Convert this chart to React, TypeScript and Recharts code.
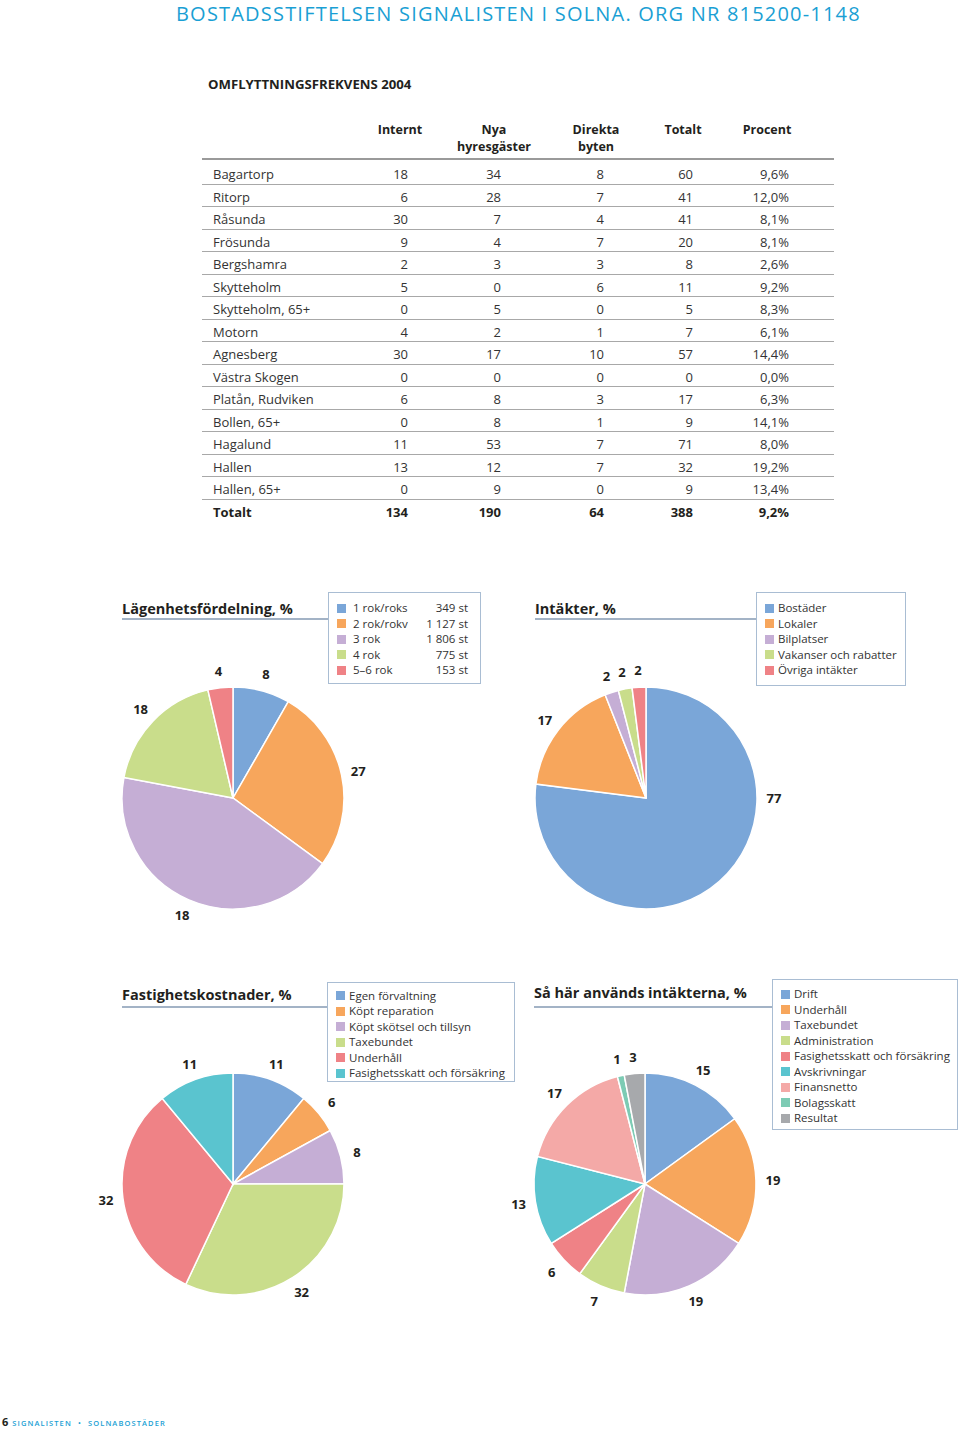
import React from 'react';
import { PieChart, Pie, Cell } from 'recharts';

// ---------- DATA ----------
const headerText = 'BOSTADSSTIFTELSEN SIGNALISTEN I SOLNA. ORG NR 815200-1148';
const tableTitle = 'OMFLYTTNINGSFREKVENS 2004';
const tableColumns = [['Internt'], ['Nya', 'hyresgäster'], ['Direkta', 'byten'], ['Totalt'], ['Procent']];
const areaNames = ['Bagartorp', 'Ritorp', 'Råsunda', 'Frösunda', 'Bergshamra', 'Skytteholm', 'Skytteholm, 65+', 'Motorn', 'Agnesberg', 'Västra Skogen', 'Platån, Rudviken', 'Bollen, 65+', 'Hagalund', 'Hallen', 'Hallen, 65+'];
const interntValues = [18, 6, 30, 9, 2, 5, 0, 4, 30, 0, 6, 0, 11, 13, 0];
const nyaValues = [34, 28, 7, 4, 3, 0, 5, 2, 17, 0, 8, 8, 53, 12, 9];
const direktaValues = [8, 7, 4, 7, 3, 6, 0, 1, 10, 0, 3, 1, 7, 7, 0];
const totaltValues = [60, 41, 41, 20, 8, 11, 5, 7, 57, 0, 17, 9, 71, 32, 9];
const procentValues = ['9,6%', '12,0%', '8,1%', '8,1%', '2,6%', '9,2%', '8,3%', '6,1%', '14,4%', '0,0%', '6,3%', '14,1%', '8,0%', '19,2%', '13,4%'];
const totalRow = ['Totalt', '134', '190', '64', '388', '9,2%'];

const lagTitle = 'Lägenhetsfördelning, %';
const lagNames = ['1 rok/roks', '2 rok/rokv', '3 rok', '4 rok', '5–6 rok'];
const lagCounts = [349, 1127, 1806, 775, 153];
const lagLabels = ['8', '27', '18', '18', '4'];

const intTitle = 'Intäkter, %';
const intNames = ['Bostäder', 'Lokaler', 'Bilplatser', 'Vakanser och rabatter', 'Övriga intäkter'];
const intValues = [77, 17, 2, 2, 2];

const kostTitle = 'Fastighetskostnader, %';
const kostNames = ['Egen förvaltning', 'Köpt reparation', 'Köpt skötsel och tillsyn', 'Taxebundet', 'Underhåll', 'Fasighetsskatt och försäkring'];
const kostValues = [11, 6, 8, 32, 32, 11];

const anvTitle = 'Så här används intäkterna, %';
const anvNames = ['Drift', 'Underhåll', 'Taxebundet', 'Administration', 'Fasighetsskatt och försäkring', 'Avskrivningar', 'Finansnetto', 'Bolagsskatt', 'Resultat'];
const anvValues = [15, 19, 19, 7, 6, 13, 17, 1, 3];

const footerPage = '6';
const footerText = 'SIGNALISTEN  •  SOLNABOSTÄDER';

// ---------- STYLE ----------
const FONT = '"Open Sans", "Noto Sans", sans-serif';
const INK = '#231f20';
const BLUE_TXT = '#1a9fd4';
const COL = {
  blue: '#7aa6d8',
  orange: '#f7a65c',
  purple: '#c5aed5',
  green: '#c9dd8b',
  red: '#ef8286',
  teal: '#5ac4cf',
  pink: '#f4a9a7',
  sea: '#7dcbb4',
  gray: '#a7a9ac',
};
const five = [COL.blue, COL.orange, COL.purple, COL.green, COL.red];
const six = [...five, COL.teal];
const nine = [...six, COL.pink, COL.sea, COL.gray];

const RAD = Math.PI / 180;
const fmtThousands = (n: number) => n.toString().replace(/\B(?=(\d{3})+(?!\d))/g, ' ');

const makeLabel = (labels: string[]) => (props: any) => {
  const { cx, cy, midAngle, outerRadius, percent, index } = props;
  const ang = percent > 0.5 ? 0 : midAngle;
  const r = outerRadius + 17;
  const x = cx + r * Math.cos(-ang * RAD);
  const y = cy + r * Math.sin(-ang * RAD);
  return (
    <text key={`l${index}`} x={x} y={y} textAnchor="middle" dominantBaseline="central"
      style={{ fontFamily: FONT, fontWeight: 700, fontSize: 13, fill: INK }}>
      {labels[index]}
    </text>
  );
};

function PieBlock({ cxPage, cyPage, values, labels, colors }: { cxPage: number; cyPage: number; values: number[]; labels: string[]; colors: string[] }) {
  const size = 320;
  const data = values.map((v, i) => ({ name: String(i), value: v }));
  return (
    <div style={{ position: 'absolute', left: cxPage - size / 2, top: cyPage - size / 2, width: size, height: size }}>
      <PieChart width={size} height={size} margin={{ top: 0, right: 0, bottom: 0, left: 0 }}>
        <Pie data={data} dataKey="value" cx="50%" cy="50%" outerRadius={111} startAngle={90} endAngle={-270}
          stroke="#ffffff" strokeWidth={1.5} isAnimationActive={false} labelLine={false} label={makeLabel(labels)}>
          {data.map((d, i) => <Cell key={d.name} fill={colors[i]} />)}
        </Pie>
      </PieChart>
    </div>
  );
}

function Title({ text, x, y, lineY, lineEnd }: { text: string; x: number; y: number; lineY: number; lineEnd: number }) {
  return (
    <>
      <div style={{ position: 'absolute', left: x, top: y - 10, height: 20, lineHeight: '20px', fontFamily: FONT, fontWeight: 700, fontSize: 14.5, color: INK, whiteSpace: 'nowrap' }}>{text}</div>
      <div style={{ position: 'absolute', left: x, top: lineY, width: lineEnd - x, height: 1.5, background: '#a3b3c6' }} />
    </>
  );
}

function LegendBox({ left, top, width, height, names, colors, firstY, step, values }: { left: number; top: number; width: number; height: number; names: string[]; colors: string[]; firstY: number; step: number; values?: string[] }) {
  return (
    <>
      <div style={{ position: 'absolute', left, top, width, height, border: '1.5px solid #a9bdd3', boxSizing: 'border-box' }} />
      {names.map((n, i) => {
        const cy = firstY + i * step;
        return (
          <React.Fragment key={n + i}>
            <div style={{ position: 'absolute', left: left + 9, top: cy - 4.5, width: 9, height: 9, background: colors[i] }} />
            <div style={{ position: 'absolute', left: left + (values ? 25 : 22), top: cy - 8, height: 16, lineHeight: '16px', fontFamily: FONT, fontSize: 11.5, color: '#333', whiteSpace: 'nowrap' }}>{n}</div>
            {values && (
              <div style={{ position: 'absolute', right: 960 - (left + width - 13), top: cy - 8, height: 16, lineHeight: '16px', fontFamily: FONT, fontSize: 11.5, color: '#333', whiteSpace: 'nowrap', textAlign: 'right' }}>{values[i]}</div>
            )}
          </React.Fragment>
        );
      })}
    </>
  );
}

export default function App() {
  const colCenters = [400, 494, 596, 683, 767];
  const colRights = [408, 501, 604, 693, 789];
  const rowTop = 162;
  const rowH = 22.5;
  const rows = areaNames.map((n, i) => [n, String(interntValues[i]), String(nyaValues[i]), String(direktaValues[i]), String(totaltValues[i]), procentValues[i]]);
  const allRows = [...rows, totalRow];
  const cellText = (bold: boolean): React.CSSProperties => ({ position: 'absolute', height: 18, lineHeight: '18px', fontFamily: FONT, fontSize: 13, fontWeight: bold ? 700 : 400, color: bold ? INK : '#333', whiteSpace: 'nowrap' });

  return (
    <div style={{ position: 'relative', width: 960, height: 1429, overflow: 'hidden', background: '#fff' }}>
      <style>{`body{margin:0}`}</style>
      {/* header */}
      <div style={{ position: 'absolute', left: 176, top: 2, height: 24, lineHeight: '24px', fontFamily: FONT, fontSize: 20, letterSpacing: 1.2, color: BLUE_TXT, whiteSpace: 'nowrap' }}>{headerText}</div>

      {/* table */}
      <div style={{ position: 'absolute', left: 208, top: 74, height: 20, lineHeight: '20px', fontFamily: FONT, fontWeight: 700, fontSize: 13.2, color: INK }}>{tableTitle}</div>
      {tableColumns.map((lines, c) => (
        <div key={c} style={{ position: 'absolute', left: colCenters[c] - 60, width: 120, top: 121, textAlign: 'center', lineHeight: '17px', fontFamily: FONT, fontWeight: 700, fontSize: 12.5, color: INK }}>
          {lines.map((l) => <div key={l}>{l}</div>)}
        </div>
      ))}
      <div style={{ position: 'absolute', left: 202, top: 158, width: 632, height: 2, background: '#9a9a9a' }} />
      {allRows.map((r, i) => {
        const top = rowTop + i * rowH;
        const bold = i === allRows.length - 1;
        return (
          <React.Fragment key={r[0]}>
            <div style={{ ...cellText(bold), left: 213, top: top + 3 }}>{r[0]}</div>
            {r.slice(1).map((v, c) => (
              <div key={c} style={{ ...cellText(bold), right: 960 - colRights[c], top: top + 3, textAlign: 'right' }}>{v}</div>
            ))}
            {!bold && <div style={{ position: 'absolute', left: 202, top: top + rowH - 1, width: 632, height: 1, background: '#a8a8a8' }} />}
          </React.Fragment>
        );
      })}

      {/* Lägenhetsfördelning */}
      <Title text={lagTitle} x={122} y={609} lineY={618} lineEnd={328} />
      <LegendBox left={328} top={592} width={153} height={92} names={lagNames} colors={five} firstY={608} step={15.6} values={lagCounts.map((v) => `${fmtThousands(v)} st`)} />
      <PieBlock cxPage={233} cyPage={798} values={lagCounts} labels={lagLabels} colors={five} />

      {/* Intäkter */}
      <Title text={intTitle} x={535} y={609} lineY={618} lineEnd={756} />
      <LegendBox left={756} top={592} width={150} height={94} names={intNames} colors={five} firstY={608} step={15.6} />
      <PieBlock cxPage={646} cyPage={798} values={intValues} labels={intValues.map(String)} colors={five} />

      {/* Fastighetskostnader */}
      <Title text={kostTitle} x={122} y={995} lineY={1006} lineEnd={327} />
      <LegendBox left={327} top={982} width={188} height={100} names={kostNames} colors={six} firstY={995.5} step={15.5} />
      <PieBlock cxPage={233} cyPage={1184} values={kostValues} labels={kostValues.map(String)} colors={six} />

      {/* Så här används intäkterna */}
      <Title text={anvTitle} x={534} y={993} lineY={1006} lineEnd={772} />
      <LegendBox left={772} top={979} width={186} height={151} names={anvNames} colors={nine} firstY={994} step={15.5} />
      <PieBlock cxPage={645} cyPage={1184} values={anvValues} labels={anvValues.map(String)} colors={nine} />

      {/* footer */}
      <div style={{ position: 'absolute', left: 2, top: 1412, height: 16, lineHeight: '16px', fontFamily: FONT, whiteSpace: 'nowrap' }}>
        <span style={{ fontWeight: 700, fontSize: 11, color: INK }}>{footerPage}</span>
        <span style={{ fontWeight: 600, fontSize: 7.5, letterSpacing: 1.1, color: BLUE_TXT, marginLeft: 4, whiteSpace: 'pre' }}>{footerText}</span>
      </div>
    </div>
  );
}
